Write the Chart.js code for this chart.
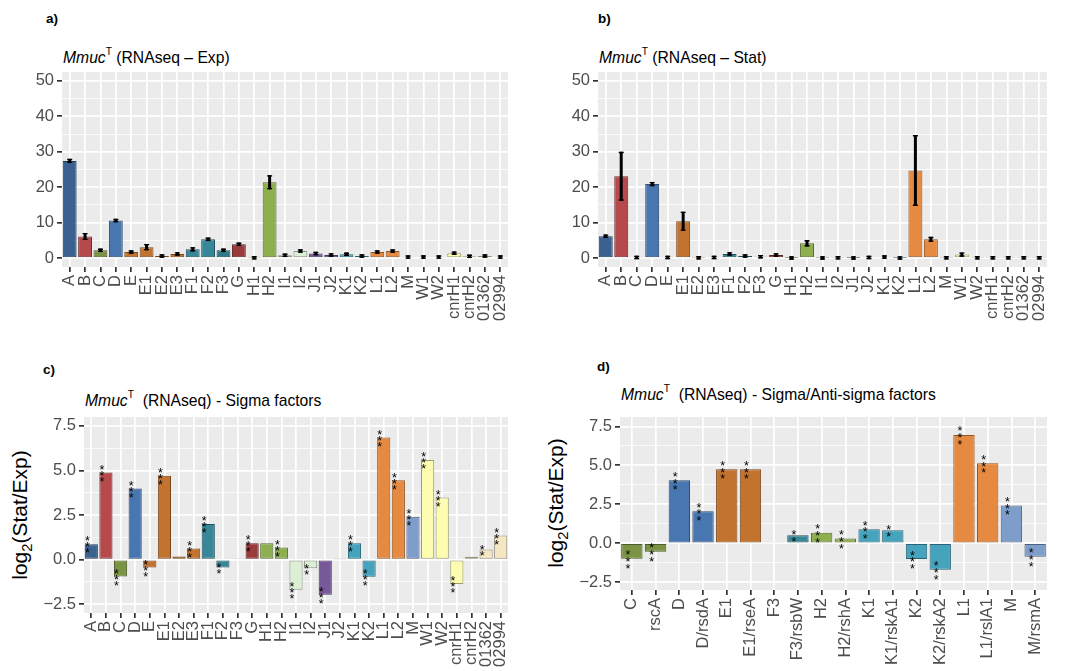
<!DOCTYPE html>
<html>
<head>
<meta charset="utf-8">
<script src="https://cdn.jsdelivr.net/npm/chart.js@4.4.1/dist/chart.umd.min.js"></script>
<style>
  body { margin: 0; background: #fff; font-family: "Liberation Sans", Arial, sans-serif; }
  #wrap { position: relative; width: 1073px; height: 671px; overflow: hidden; }
  canvas { position: absolute; }
  .lbl { position: absolute; font-weight: bold; font-size: 13.5px; line-height: 1; }
  .ttl { position: absolute; font-size: 15.7px; line-height: 1; white-space: nowrap; color: #000; }
  .ttl sup { font-size: 0.65em; position: relative; top: -0.15em; }
  .ytl { position: absolute; font-size: 21px; line-height: 1; white-space: nowrap; transform: translate(-50%, -50%) rotate(-90deg); }
  .ytl sub { font-size: 0.7em; }
</style>
</head>
<body>
<div id="wrap">
  <div class="lbl" style="left:46px;top:12px">a)</div>
  <div class="lbl" style="left:598px;top:12px">b)</div>
  <div class="lbl" style="left:43px;top:363px">c)</div>
  <div class="lbl" style="left:597px;top:360px">d)</div>

  <div class="ttl" style="left:63px;top:49px"><i>Mmuc</i><sup>T</sup> (RNAseq – Exp)</div>
  <div class="ttl" style="left:599px;top:49px"><i>Mmuc</i><sup>T</sup> (RNAseq – Stat)</div>
  <div class="ttl" style="left:85px;top:392px"><i>Mmuc</i><sup>T</sup>&nbsp; (RNAseq) - Sigma factors</div>
  <div class="ttl" style="left:621px;top:386px"><i>Mmuc</i><sup>T</sup>&nbsp; (RNAseq) - Sigma/Anti-sigma factors</div>

  <div class="ytl" style="left:22px;top:515px">log<sub>2</sub>(Stat/Exp)</div>
  <div class="ytl" style="left:558px;top:503px">log<sub>2</sub>(Stat/Exp)</div>

  <canvas id="pa"></canvas>
  <canvas id="pb"></canvas>
  <canvas id="pc"></canvas>
  <canvas id="pd"></canvas>
</div>
<script>
// ---- data ----
const sigmaNames = ["A","B","C","D","E","E1","E2","E3","F1","F2","F3","G","H1","H2","I1","I2",
  "J1","J2","K1","K2","L1","L2","M","W1","W2","cnrH1","cnrH2","01362","02994"];

const expMean = [27.4, 6.1, 2.2, 10.6, 1.7, 3.1, 0.6, 1.2, 2.5, 5.3, 2.2, 3.9, 0.1, 21.4, 0.8, 2.0,
  1.3, 0.9, 1.1, 0.6, 1.7, 2.0, 0.3, 0.3, 0.3, 1.4, 0.5, 0.6, 0.3];
const expErr = [0.6, 1.0, 0.4, 0.3, 0.2, 0.9, 0.1, 0.3, 0.6, 0.5, 0.3, 0.5, 0.1, 2.0, 0.2, 0.3,
  0.5, 0.3, 0.3, 0.1, 0.2, 0.3, 0.1, 0.1, 0.1, 0.5, 0.1, 0.1, 0.1];

const statMean = [6.2, 23.1, 0.2, 20.9, 0.2, 10.4, 0.1, 0.2, 1.2, 0.6, 0.4, 0.9, 0.05, 4.2, 0.05, 0.1,
  0.05, 0.2, 0.3, 0.05, 24.7, 5.3, 0.1, 1.0, 0.1, 0.1, 0.1, 0.1, 0.1];
const statErr = [0.3, 6.9, 0.1, 0.6, 0.1, 2.7, 0.1, 0.1, 0.3, 0.2, 0.2, 0.3, 0.05, 0.9, 0.05, 0.1,
  0.05, 0.1, 0.3, 0.05, 10.0, 0.7, 0.1, 0.6, 0.1, 0.1, 0.1, 0.1, 0.1];

const sigmaLog2 = [0.86, 4.89, -0.95, 3.99, -0.45, 4.70, 0.17, 0.62, 1.99, -0.45, 0.06, 0.92, 0.92, 0.67,
  -1.69, -0.49, -1.97, 0.02, 0.92, -0.97, 6.85, 4.45, 2.40, 5.58, 3.48, -1.37, 0.15, 0.56, 1.35];
const sigmaStars = [3, 3, 3, 3, 3, 3, 0, 3, 3, 2, 0, 3, 0, 3, 3, 2, 3, 0, 3, 3, 3, 3, 3, 3, 3, 3, 0, 2, 3];

const pairNames = ["C","rscA","D","D/rsdA","E1","E1/rseA","F3","F3/rsbW","H2","H2/rshA",
  "K1","K1/rskA1","K2","K2/rskA2","L1","L1/rslA1","M","M/rsmA"];
const pairLog2 = [-0.99, -0.54, 4.04, 2.06, 4.74, 4.74, 0.06, 0.51, 0.67, 0.30,
  0.90, 0.84, -1.01, -1.70, 6.95, 5.13, 2.42, -0.86];
const pairStars = [3, 3, 3, 3, 3, 3, 0, 2, 3, 3, 3, 2, 3, 3, 3, 3, 3, 3];

const yTicksAbs = [0, 10, 20, 30, 40, 50];
const yTicksLog = [-2.5, 0, 2.5, 5, 7.5];

// ---- styles ----
const sigmaColors = ["#3A6190","#B5494B","#7B9443","#4876B0","#C2732F","#C2732F","#C2732F","#C2732F",
  "#378799","#378799","#2E7A8A","#9B3A3B","#8EAF50","#8EAF50","#DCEFD4","#DCEFD4","#77599A","#77599A",
  "#45A3BD","#45A3BD","#E68A41","#E68A41","#7F9DCB","#FDFDB1","#FDFDB1","#FDFDB1","#F8F1C8","#F5E6C4","#F5E6C4"];
const pairColors = ["#7B9443","#7B9443","#4876B0","#4876B0","#C2732F","#C2732F","#2E7A8A","#378799",
  "#8EAF50","#8EAF50","#45A3BD","#45A3BD","#45A3BD","#45A3BD","#E68A41","#E68A41","#7F9DCB","#7F9DCB"];

function darken(hex, f) {
  const n = parseInt(hex.slice(1), 16);
  const r = Math.round(((n >> 16) & 255) * f), g = Math.round(((n >> 8) & 255) * f), b = Math.round((n & 255) * f);
  return `rgb(${r},${g},${b})`;
}

const panelBg = {
  id: "panelBg",
  beforeDraw(chart) {
    const { ctx, chartArea: a } = chart;
    ctx.save();
    ctx.fillStyle = "#EBEBEB";
    ctx.fillRect(a.left, a.top, a.width, a.height);
    ctx.restore();
  }
};

const errorBars = {
  id: "errorBars",
  afterDatasetsDraw(chart, args, opts) {
    if (!opts.errors) return;
    const { ctx } = chart;
    const ys = chart.scales.y;
    const vals = chart.data.datasets[0].data;
    ctx.save();
    ctx.strokeStyle = "#000";
    chart.getDatasetMeta(0).data.forEach((bar, i) => {
      const e = opts.errors[i];
      let top = ys.getPixelForValue(vals[i] + e);
      let bot = ys.getPixelForValue(vals[i] - e);
      if (bot - top < 3.5) { const m = (top + bot) / 2; top = m - 1.75; bot = m + 1.75; }
      ctx.lineWidth = 3;
      ctx.beginPath(); ctx.moveTo(bar.x, top); ctx.lineTo(bar.x, bot); ctx.stroke();
      ctx.lineWidth = 1.4;
      ctx.beginPath();
      ctx.moveTo(bar.x - 2.5, top + 0.7); ctx.lineTo(bar.x + 2.5, top + 0.7);
      ctx.moveTo(bar.x - 2.5, bot - 0.7); ctx.lineTo(bar.x + 2.5, bot - 0.7);
      ctx.stroke();
    });
    ctx.restore();
  }
};

const starMarks = {
  id: "starMarks",
  afterDatasetsDraw(chart, args, opts) {
    if (!opts.stars) return;
    const { ctx } = chart;
    const ys = chart.scales.y;
    const vals = chart.data.datasets[0].data;
    const fs = 12.5, gap = opts.gap || 6.5;
    ctx.save();
    ctx.fillStyle = "#000";
    ctx.font = `${fs}px "Liberation Sans", Arial, sans-serif`;
    ctx.textAlign = "center";
    ctx.textBaseline = "alphabetic";
    chart.getDatasetMeta(0).data.forEach((bar, i) => {
      const n = opts.stars[i];
      if (!n) return;
      const cy = ys.getPixelForValue(vals[i]);
      for (let k = 0; k < n; k++) {
        const y = cy + (k - (n - 1) / 2) * gap;
        ctx.fillText("*", bar.x - 4, y + 0.58 * fs);
      }
    });
    ctx.restore();
  }
};

function makePanel(id, box, area, cfg) {
  const cv = document.getElementById(id);
  cv.style.left = box.left + "px";
  cv.style.top = box.top + "px";
  cv.width = box.width;
  cv.height = box.height;
  const major = cfg.yTicks;
  const half = (major[1] - major[0]) / 2;
  const allTicks = [];
  major.forEach((v, i) => { allTicks.push(v); if (i < major.length - 1) allTicks.push(v + half); });
  if (major[0] - half >= cfg.yMin) allTicks.unshift(major[0] - half);
  if (major[major.length - 1] + half <= cfg.yMax) allTicks.push(major[major.length - 1] + half);
  const isMajor = (v) => major.some((m) => Math.abs(m - v) < 1e-9);
  const tickFont = { family: "'Liberation Sans', Arial, sans-serif", size: 16.5 };

  return new Chart(cv, {
    type: "bar",
    data: {
      labels: cfg.labels,
      datasets: [{
        data: cfg.values,
        backgroundColor: cfg.colors,
        borderColor: cfg.colors.map((c) => darken(c, 0.62)),
        borderWidth: 1,
        borderSkipped: false,
        barPercentage: 0.9,
        categoryPercentage: 1.0
      }]
    },
    options: {
      responsive: false,
      animation: false,
      devicePixelRatio: 1,
      layout: {
        padding: { top: area.top - box.top, right: box.left + box.width - area.right, left: 0, bottom: 0 }
      },
      plugins: {
        legend: { display: false },
        tooltip: { enabled: false },
        errorBars: { errors: cfg.errors },
        starMarks: { stars: cfg.stars, gap: cfg.starGap }
      },
      scales: {
        x: {
          offset: true,
          border: { display: false },
          grid: { offset: false, color: "#FFFFFF", lineWidth: 1.7, tickColor: "#333333", tickLength: 5, tickWidth: 1.7 },
          ticks: { autoSkip: false, maxRotation: 90, minRotation: 90, padding: 3, color: "#4D4D4D", font: tickFont },
          afterFit(s) {
            s.height = box.top + box.height - area.bottom;
            s.paddingLeft = 0; s.paddingRight = 0;
          }
        },
        y: {
          min: cfg.yMin,
          max: cfg.yMax,
          border: { display: false },
          afterBuildTicks(s) { s.ticks = allTicks.map((v) => ({ value: v })); },
          grid: {
            color: "#FFFFFF",
            lineWidth: (c) => (c.tick && isMajor(c.tick.value) ? 1.7 : 0.8),
            tickColor: (c) => (c.tick && isMajor(c.tick.value) ? "#333333" : "rgba(0,0,0,0)"),
            tickLength: 5,
            tickWidth: 1.7
          },
          ticks: {
            autoSkip: false,
            padding: 3,
            color: "#4D4D4D",
            font: tickFont,
            callback: (v) => (isMajor(v) ? cfg.fmt(v) : "")
          },
          afterFit(s) {
            s.width = area.left - box.left;
            s.paddingTop = 0; s.paddingBottom = 0;
          }
        }
      }
    },
    plugins: [panelBg, errorBars, starMarks]
  });
}

const fmtInt = (v) => String(v);
const fmtLog = (v) => (v < 0 ? "\u2212" + Math.abs(v).toFixed(1) : v.toFixed(1));

makePanel("pa", { left: 0, top: 65, width: 520, height: 275 },
  { left: 62, right: 508, top: 72, bottom: 267 },
  { labels: sigmaNames, values: expMean, errors: expErr, colors: sigmaColors,
    yTicks: yTicksAbs, yMin: -2.5, yMax: 52.5, fmt: fmtInt });

makePanel("pb", { left: 536, top: 65, width: 537, height: 275 },
  { left: 598, right: 1047, top: 72, bottom: 267 },
  { labels: sigmaNames, values: statMean, errors: statErr, colors: sigmaColors,
    yTicks: yTicksAbs, yMin: -2.5, yMax: 52.5, fmt: fmtInt });

makePanel("pc", { left: 0, top: 410, width: 520, height: 261 },
  { left: 84, right: 508, top: 417, bottom: 613 },
  { labels: sigmaNames, values: sigmaLog2, stars: sigmaStars, starGap: 6, colors: sigmaColors,
    yTicks: yTicksLog, yMin: -3.0, yMax: 8.0, fmt: fmtLog });

makePanel("pd", { left: 536, top: 410, width: 537, height: 261 },
  { left: 620, right: 1047, top: 417, bottom: 590 },
  { labels: pairNames, values: pairLog2, stars: pairStars, starGap: 6.7, colors: pairColors,
    yTicks: yTicksLog, yMin: -3.0, yMax: 8.1, fmt: fmtLog });
</script>
</body>
</html>
